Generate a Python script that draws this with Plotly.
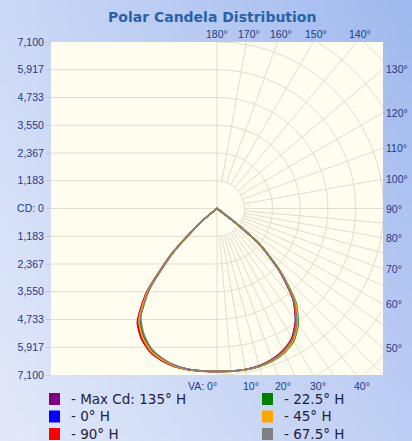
import base64, struct, zlib
import numpy as np
import plotly.graph_objects as go

# ---------------- data ----------------
angles = [0, 5, 10, 15, 20, 25, 30, 35, 40, 45, 50, 52.5, 55, 90]  # vertical angle (deg)

series_names = ["Max Cd: 135° H", "0° H", "90° H", "22.5° H", "45° H", "67.5° H"]
series_colors = ["#800080", "#0000ff", "#ff0000", "#008000", "#ffa500", "#808080"]

# candela in the H plane (right half of the plot)
cd_135_right = [6950, 6955, 6968, 6945, 6850, 6670, 6380, 5830, 5040, 3770, 2330, 800, 0, 0]
cd_0_right = [6950, 6960, 6980, 6970, 6900, 6760, 6490, 5960, 5160, 3840, 2360, 800, 0, 0]
cd_90_right = [6950, 6958, 6972, 6950, 6860, 6690, 6400, 5860, 5060, 3780, 2340, 800, 0, 0]
cd_22_right = [6950, 6965, 6985, 6980, 6920, 6790, 6540, 6030, 5230, 3880, 2380, 800, 0, 0]
cd_45_right = [6950, 6962, 6982, 6975, 6910, 6770, 6510, 5990, 5190, 3860, 2370, 800, 0, 0]
cd_67_right = [6950, 6960, 6975, 6960, 6880, 6720, 6440, 5900, 5100, 3800, 2350, 800, 0, 0]

# candela in the opposite plane H+180 (left half of the plot)
cd_135_left = [6950, 6960, 6985, 6975, 6900, 6750, 6430, 5920, 4680, 2720, 900, 0, 0, 0]
cd_0_left = [6950, 6953, 6965, 6935, 6820, 6630, 6260, 5710, 4500, 2640, 880, 0, 0, 0]
cd_90_left = [6950, 6960, 6980, 6970, 6890, 6730, 6400, 5880, 4640, 2700, 900, 0, 0, 0]
cd_22_left = [6950, 6955, 6970, 6945, 6840, 6660, 6300, 5750, 4530, 2650, 880, 0, 0, 0]
cd_45_left = [6950, 6958, 6975, 6955, 6860, 6690, 6340, 5800, 4570, 2670, 890, 0, 0, 0]
cd_67_left = [6950, 6950, 6960, 6925, 6800, 6600, 6220, 5660, 4460, 2620, 870, 0, 0, 0]

right_values = [cd_135_right, cd_0_right, cd_90_right, cd_22_right, cd_45_right, cd_67_right]
left_values = [cd_135_left, cd_0_left, cd_90_left, cd_22_left, cd_45_left, cd_67_left]

cd_max = 7100
n_ticks = 6
y_tick_labels = ["7,100", "5,917", "4,733", "3,550", "2,367", "1,183", "CD: 0",
                 "1,183", "2,367", "3,550", "4,733", "5,917", "7,100"]
top_angle_labels = [180, 170, 160, 150, 140]
right_angle_labels = [130, 120, 110, 100, 90, 80, 70, 60, 50]
bottom_angle_labels = [0, 10, 20, 30, 40]

# ---------------- layout geometry ----------------
W, H = 412, 441
ML, MR, MT, MB = 51, 29, 42, 66
PW, PH = W - ML - MR, H - MT - MB
cd_step = cd_max / n_ticks
x_max = cd_max * PW / PH  # keep equal scale on both axes

TICK_FONT = dict(family="Liberation Sans, Arial, sans-serif", size=10.5, color="#1d3a85")
GRID = "#e2ddcc"

fig = go.Figure()

# ---------- grid ----------
gx, gy = [], []
for k in range(-(n_ticks - 1), n_ticks):
    gx += [-x_max, 0, None]
    gy += [k * cd_step, k * cd_step, None]
# circles on right half
th = np.radians(np.arange(0, 181, 1))
for k in range(1, 10):
    r = k * cd_step
    gx += list(r * np.sin(th)) + [None]
    gy += list(-r * np.cos(th)) + [None]
# radial lines
radial = list(range(5, 91, 5)) + list(range(100, 180, 10))
for a in radial:
    t = np.radians(a)
    gx += [cd_step * np.sin(t), 12 * cd_step * np.sin(t), None]
    gy += [-cd_step * np.cos(t), -12 * cd_step * np.cos(t), None]
# centre vertical line
gx += [0, 0, None]
gy += [-cd_max, cd_max, None]
fig.add_trace(go.Scatter(x=gx, y=gy, mode="lines", line=dict(color=GRID, width=1),
                         hoverinfo="skip", showlegend=False))

# ---------- candela curves ----------
ang = np.radians(np.array(angles, dtype=float))
for name, color, rv, lv in zip(series_names, series_colors, right_values, left_values):
    rv = np.array(rv, dtype=float)
    lv = np.array(lv, dtype=float)
    xl = -(lv * np.sin(ang))[::-1]
    yl = -(lv * np.cos(ang))[::-1]
    xr = rv * np.sin(ang)
    yr = -rv * np.cos(ang)
    fig.add_trace(go.Scatter(x=np.concatenate([xl, xr]), y=np.concatenate([yl, yr]),
                             mode="lines", name=name,
                             line=dict(color=color, width=1.6, shape="spline", smoothing=0.6),
                             showlegend=False))

# ---------- angle labels ----------
ann = []
for a in top_angle_labels:
    t = np.radians(180 - a)
    ann.append(dict(x=cd_max * np.tan(t), y=cd_max, xref="x", yref="y", text=f"{a}°",
                    showarrow=False, xanchor="center", yanchor="bottom",
                    xshift=0 if a == 180 else 3, yshift=0, font=TICK_FONT))
for a in right_angle_labels:
    t = np.radians(a)
    ann.append(dict(x=x_max, y=-x_max * np.cos(t) / np.sin(t), xref="x", yref="y",
                    text=f"{a}°", showarrow=False, xanchor="left", yanchor="middle",
                    xshift=1, font=TICK_FONT))
for a in bottom_angle_labels:
    t = np.radians(a)
    if a == 0:
        ann.append(dict(x=0, y=-cd_max, xref="x", yref="y", text="VA: 0°", showarrow=False,
                        xanchor="right", yanchor="top", xshift=2, yshift=-3, font=TICK_FONT))
    else:
        ann.append(dict(x=cd_max * np.tan(t), y=-cd_max, xref="x", yref="y", text=f"{a}°",
                        showarrow=False, xanchor="center", yanchor="top", xshift=5, yshift=-3,
                        font=TICK_FONT))

# ---------- legend (manual, two columns) ----------
def px_to_paper_x(px):
    return (px - ML) / PW

def px_to_paper_y(py):
    return (H - MB - py) / PH

shapes = [dict(type="rect", xref="paper", yref="paper", x0=0, x1=1, y0=0, y1=1,
               fillcolor="#fffdf0", line=dict(width=0), layer="below")]
legend_cols_px = [49, 262]
legend_rows_px = [399, 416.5, 434]
order = [(0, 0), (1, 0), (2, 0), (0, 1), (1, 1), (2, 1)]  # (row, col) for each series
for (row, col), name, color in zip(order, series_names, series_colors):
    x0 = legend_cols_px[col]
    yc = legend_rows_px[row]
    shapes.append(dict(type="rect", xref="paper", yref="paper",
                       x0=px_to_paper_x(x0), x1=px_to_paper_x(x0 + 11),
                       y0=px_to_paper_y(yc + 6), y1=px_to_paper_y(yc - 6),
                       fillcolor=color, line=dict(width=0)))
    ann.append(dict(x=px_to_paper_x(x0 + 20), y=px_to_paper_y(yc), xref="paper", yref="paper",
                    text=f"- {name}", showarrow=False, xanchor="left", yanchor="middle",
                    font=dict(family="DejaVu Sans, sans-serif", size=13.5, color="#202040")))

# ---------- title ----------
ann.append(dict(x=px_to_paper_x(W / 2 + 6), y=px_to_paper_y(17), xref="paper", yref="paper",
                text="<b>Polar Candela Distribution</b>", showarrow=False,
                xanchor="center", yanchor="middle",
                font=dict(family="DejaVu Sans, sans-serif", size=14, color="#2a62a8")))

# ---------- gradient background image ----------
def gradient_png(w, h, tl, tr, bl, br):
    rows = b""
    for j in range(h):
        v = j / (h - 1)
        rows += b"\x00"
        for i in range(w):
            u = i / (w - 1)
            px = [int(round((1 - u) * (1 - v) * tl[c] + u * (1 - v) * tr[c]
                            + (1 - u) * v * bl[c] + u * v * br[c])) for c in range(3)]
            rows += bytes(px)
    def chunk(tag, data):
        return struct.pack(">I", len(data)) + tag + data + struct.pack(">I", zlib.crc32(tag + data) & 0xffffffff)
    png = b"\x89PNG\r\n\x1a\n" + chunk(b"IHDR", struct.pack(">IIBBBBB", w, h, 8, 2, 0, 0, 0))
    png += chunk(b"IDAT", zlib.compress(rows)) + chunk(b"IEND", b"")
    return "data:image/png;base64," + base64.b64encode(png).decode()

bg = gradient_png(40, 40, (204, 217, 246), (160, 185, 238), (226, 233, 249), (190, 206, 243))

fig.update_layout(
    width=W, height=H,
    margin=dict(l=ML, r=MR, t=MT, b=MB, pad=0),
    paper_bgcolor="#c4d3f4",
    plot_bgcolor="#fffdf0",
    showlegend=False,
    xaxis=dict(range=[-x_max, x_max], showgrid=False, zeroline=False, showticklabels=False,
               ticks="", showline=False, fixedrange=True),
    yaxis=dict(range=[-cd_max, cd_max], showgrid=False, zeroline=False,
               tickmode="array",
               tickvals=[k * cd_step for k in range(n_ticks, -n_ticks - 1, -1)],
               ticktext=y_tick_labels, ticks="outside", ticklen=4, tickcolor="#c9c9c9",
               tickfont=TICK_FONT, showline=False, fixedrange=True),
    annotations=ann,
    shapes=shapes,
    images=[dict(source=bg, xref="paper", yref="paper",
                 x=-ML / PW, y=1 + MT / PH, sizex=W / PW, sizey=H / PH,
                 xanchor="left", yanchor="top", sizing="stretch", layer="below")],
)

fig.write_html("out.html", config={"displayModeBar": False},
               post_script="document.body.style.margin='0';document.body.style.padding='0';")
